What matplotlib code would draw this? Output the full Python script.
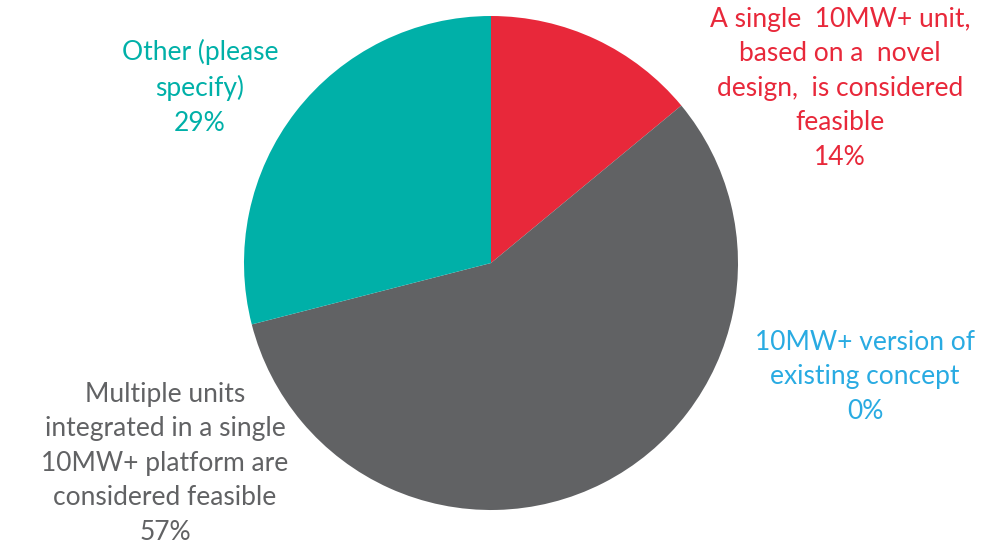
import matplotlib.pyplot as plt

labels = [
    "A single  10MW+ unit,\nbased on a  novel\ndesign,  is considered\nfeasible\n14%",
    "10MW+ version of\nexisting concept\n0%",
    "Multiple units\nintegrated in a single\n10MW+ platform are\nconsidered feasible\n57%",
    "Other (please\nspecify)\n29%",
]
values = [14, 0, 57, 29]
colors = ["#E8283A", "#29ABE2", "#616264", "#00B0A8"]
label_colors = ["#E8283A", "#29ABE2", "#616264", "#00B0A8"]
# label centres in pixels (x, top of first line)
label_pos = [(840, 7), (865, 330), (165, 382), (200, 39)]

W, H = 982, 543
fig = plt.figure(figsize=(W / 100, H / 100), dpi=100)
plt.rcParams["font.family"] = ["Lato", "DejaVu Sans"]

cx, cy, r = 491, 263, 247
ax = fig.add_axes([(cx - r) / W, (H - cy - r) / H, 2 * r / W, 2 * r / H])
ax.pie(values, colors=colors, startangle=90, counterclock=False, radius=1,
       wedgeprops=dict(linewidth=0))
ax.set_xlim(-1, 1)
ax.set_ylim(-1, 1)
ax.set_aspect("equal")
ax.axis("off")

for lab, col, (x, y) in zip(labels, label_colors, label_pos):
    fig.text(x / W, 1 - y / H, lab, color=col, ha="center", va="top",
             fontsize=19, linespacing=1.47, multialignment="center")

fig.savefig("out.png", dpi=100)
